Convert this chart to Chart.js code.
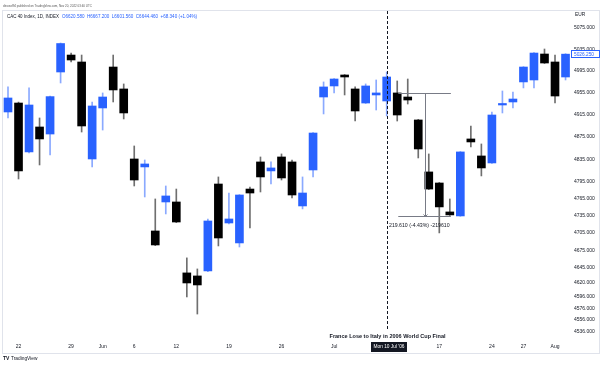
<!DOCTYPE html>
<html>
<head>
<meta charset="utf-8">
<script src="https://cdn.jsdelivr.net/npm/chart.js@4.4.0/dist/chart.umd.min.js"></script>
<style>
html, body { margin: 0; padding: 0; background: #fff; }
</style>
</head>
<body>
<canvas id="myChart" width="602" height="366"></canvas>
<script>
// CAC 40 daily, 19 May 2006 - 2 Aug 2006
const dates = ["May 19","May 22","May 23","May 24","May 25","May 26","May 29","May 30","May 31","Jun 1",
  "Jun 2","Jun 5","Jun 6","Jun 7","Jun 8","Jun 9","Jun 12","Jun 13","Jun 14","Jun 15",
  "Jun 16","Jun 19","Jun 20","Jun 21","Jun 22","Jun 23","Jun 26","Jun 27","Jun 28","Jun 29",
  "Jun 30","Jul 3","Jul 4","Jul 5","Jul 6","Jul 7","Jul 10","Jul 11","Jul 12","Jul 13",
  "Jul 14","Jul 17","Jul 18","Jul 19","Jul 20","Jul 21","Jul 24","Jul 25","Jul 26","Jul 27",
  "Jul 28","Jul 31","Aug 1","Aug 2"]
const opens = [4920.0, 4936.3, 4847.9, 4892.8, 4880.1, 4993.2, 5024.6, 5011.7, 4835.3, 4927.3,
  5002.4, 4962.0, 4835.3, 4821.1, 4708.4, 4759.1, 4759.1, 4636.0, 4630.8, 4639.4,
  4790.8, 4722.3, 4687.6, 4781.9, 4830.0, 4814.0, 4838.9, 4830.0, 4752.1, 4815.7,
  4947.3, 4967.5, 4987.7, 4962.0, 4936.3, 4951.0, 4940.0, 4954.7, 4947.3, 4905.5,
  4812.2, 4792.6, 4741.6, 4734.6, 4871.2, 4840.7, 4828.2, 4932.7, 4938.2, 4974.9,
  4978.5, 5026.5, 5011.7, 4984.0]
const highs = [4965.7, 4938.0, 4963.9, 4909.1, 4949.1, 5047.0, 5028.3, 5024.6, 4938.2, 4954.7,
  5024.6, 4971.2, 4858.6, 4833.5, 4764.4, 4787.3, 4781.9, 4661.8, 4642.8, 4729.3,
  4803.3, 4774.9, 4772.0, 4785.5, 4838.9, 4830.0, 4844.3, 4833.5, 4803.3, 4882.5,
  4974.9, 4981.0, 4988.5, 4965.7, 4971.2, 4978.5, 4993.2, 4976.7, 4980.3, 4906.5,
  4844.3, 4793.5, 4764.4, 4848.5, 4894.6, 4862.2, 4920.0, 4958.3, 4956.5, 5003.0,
  5029.0, 5035.8, 5024.6, 5027.0]
const lows = [4909.1, 4799.7, 4846.0, 4824.6, 4842.5, 4973.0, 5011.7, 4883.7, 4821.1, 4887.3,
  4938.2, 4907.3, 4787.3, 4767.9, 4683.0, 4738.1, 4723.0, 4595.0, 4566.1, 4638.0,
  4682.4, 4720.6, 4680.6, 4713.6, 4776.7, 4790.8, 4797.9, 4766.2, 4746.9, 4803.3,
  4916.4, 4954.7, 4951.0, 4903.6, 4935.5, 4923.6, 4912.7, 4903.6, 4934.5, 4837.1,
  4781.0, 4705.0, 4735.5, 4734.0, 4856.8, 4805.1, 4827.5, 4918.2, 4927.3, 4963.9,
  4963.9, 5009.0, 4936.3, 4978.5]
const closes = [4945.5, 4814.0, 4932.7, 4871.2, 4948.0, 5046.0, 5015.4, 4894.6, 4930.9, 4947.3,
  4960.2, 4918.2, 4797.9, 4826.4, 4684.1, 4769.7, 4724.0, 4618.8, 4615.4, 4725.8,
  4696.2, 4729.3, 4771.4, 4774.9, 4803.3, 4819.3, 4801.5, 4771.4, 4774.9, 4881.9,
  4965.7, 4980.3, 4984.0, 4921.8, 4967.5, 4954.7, 4984.0, 4914.5, 4941.8, 4853.2,
  4781.9, 4750.4, 4736.4, 4847.9, 4865.8, 4819.3, 4914.5, 4934.5, 4943.6, 5002.4,
  5028.3, 5009.8, 4949.1, 5026.25]

const xTickIdx = [1, 6, 9, 12, 16, 21, 26, 31, 41, 46, 49, 52]
const xTickLabels = ["22", "29", "Jun", "6", "12", "19", "26", "Jul", "17", "24", "27", "Aug"]
const yTicks = [5075, 5035, 4995, 4955, 4915, 4875, 4835, 4795, 4765, 4735, 4705, 4675, 4645, 4620, 4596, 4576, 4556, 4536]

const eventIdx = 36
const eventText = "France Lose to Italy in 2006 World Cup Final"
const eventDate = "Mon 10 Jul '06"
const measure = { from: 37.1, to: 42.1, mid: 39.6, hi: 4954.7, lo: 4735.09 }
const measureText = "219.610 (-4.43%) -219610"
const lastPrice = 5026.25

const BLUE = "#2962ff"
const BLACK = "#000000"
const FONT = "'Liberation Sans', Arial, sans-serif"

const isUp = i => closes[i] >= opens[i]

const overlay = {
  id: "overlay",
  afterDraw(chart) {
    const c = chart.ctx
    const x = chart.scales.x
    const y = chart.scales.y
    const a = chart.chartArea
    c.save()

    // frame
    c.strokeStyle = "#e0e3eb"
    c.lineWidth = 1
    c.strokeRect(2.5, 10.5, 597, 343)

    // header texts
    c.textBaseline = "middle"
    c.fillStyle = "#555"
    c.font = "3.6px " + FONT
    c.fillText("dinosof94 published on TradingView.com, Nov 20, 2022 03:40 UTC", 3, 6, 89)
    c.font = "4.7px " + FONT
    c.fillStyle = "#131722"
    c.fillText("CAC 40 Index, 1D, INDEX", 7, 16.5, 52)
    c.fillStyle = BLUE
    c.fillText("O6620.580  H6667.200  L6601.560  C6644.460  +68.340 (+1.04%)", 62, 16.5, 135)
    c.fillStyle = "#131722"
    c.font = "4.8px " + FONT
    c.fillText("EUR", 575, 15)

    // footer
    c.font = "bold 5px " + FONT
    c.fillText("TV", 3, 359)
    c.font = "4.8px " + FONT
    c.fillText("TradingView", 11, 359)

    // event line
    const ex = Math.round(x.getPixelForValue(eventIdx)) + 0.5
    c.strokeStyle = "#131722"
    c.setLineDash([3, 2])
    c.beginPath()
    c.moveTo(ex, a.top)
    c.lineTo(ex, 331)
    c.stroke()
    c.setLineDash([])
    c.font = "bold 6.2px " + FONT
    c.textAlign = "center"
    c.fillStyle = "#131722"
    c.fillText(eventText, ex, 336.5, 116)

    // date box on axis
    c.fillStyle = "#131722"
    c.fillRect(ex - 16.5, 342, 36, 10)
    c.fillStyle = "#fff"
    c.font = "4.8px " + FONT
    c.fillText(eventDate, ex + 1.5, 347, 33)

    // measure tool
    const x0 = x.getPixelForValue(measure.from)
    const x1 = x.getPixelForValue(measure.to)
    const xm = Math.round(x.getPixelForValue(measure.mid)) + 0.5
    const yh = Math.round(y.getPixelForValue(measure.hi)) + 0.5
    const yl = Math.round(y.getPixelForValue(measure.lo)) + 0.5
    c.strokeStyle = "#787b86"
    c.lineWidth = 1
    c.beginPath()
    c.moveTo(x0, yh); c.lineTo(x1, yh)
    c.moveTo(x0, yl); c.lineTo(x1, yl)
    c.moveTo(xm, yh); c.lineTo(xm, yl)
    c.moveTo(xm - 2, yl - 2); c.lineTo(xm, yl); c.lineTo(xm + 2, yl - 2)
    c.stroke()
    c.textAlign = "left"
    c.fillStyle = "#131722"
    c.font = "5.2px " + FONT
    c.fillText(measureText, 389, 226, 75)

    // last price label
    const py = Math.round(y.getPixelForValue(lastPrice))
    c.fillStyle = "#fff"
    c.fillRect(571, py - 4, 29, 8)
    c.strokeStyle = BLUE
    c.strokeRect(571.5, py - 3.5, 28, 7)
    c.fillStyle = BLUE
    c.font = "4.8px " + FONT
    c.fillText(lastPrice.toFixed(3), 574, py + 0.5)

    c.restore()
  }
}

const bodies = opens.map((o, i) => ({ x: i, y: [o, closes[i]] }))
const wicks = lows.map((l, i) => ({ x: i, y: [l, highs[i]] }))

const config = {
  type: "bar",
  data: {
    datasets: [
      {
        label: "body",
        data: bodies,
        barThickness: 8,
        minBarLength: 1.5,
        grouped: false,
        backgroundColor: ctx => isUp(ctx.dataIndex) ? BLUE : BLACK,
        borderWidth: 0
      },
      {
        label: "wick",
        data: wicks,
        barThickness: 1,
        grouped: false,
        backgroundColor: ctx => isUp(ctx.dataIndex) ? "rgba(41,98,255,0.55)" : "#6f6f6f",
        borderWidth: 0
      }
    ]
  },
  options: {
    responsive: false,
    animation: false,
    layout: { padding: { left: 3, top: 11, right: 0, bottom: 0 } },
    plugins: { legend: { display: false }, tooltip: { enabled: false } },
    scales: {
      x: {
        type: "linear",
        offset: false,
        min: -0.475,
        max: 53.52,
        grid: { display: false, drawTicks: false, offset: false },
        border: { display: false },
        afterBuildTicks: s => { s.ticks = xTickIdx.map(v => ({ value: v })) },
        afterFit: s => { s.height = 26 },
        ticks: {
          autoSkip: false,
          maxRotation: 0,
          padding: 4,
          color: "#131722",
          font: { size: 5, family: FONT },
          callback: (v, i) => xTickLabels[i]
        }
      },
      y: {
        type: "logarithmic",
        position: "right",
        min: 4522.5,
        max: 5107.0,
        grid: { display: false, drawTicks: false },
        border: { display: false },
        afterBuildTicks: s => { s.ticks = yTicks.map(v => ({ value: v })) },
        afterFit: s => { s.width = 31 },
        ticks: {
          autoSkip: false,
          crossAlign: "near",
          padding: 3,
          color: "#131722",
          font: { size: 5, family: FONT },
          callback: v => Number(v).toFixed(3)
        }
      }
    }
  },
  plugins: [overlay]
}

const myChart = new Chart(document.getElementById("myChart"), config)
</script>
</body>
</html>
